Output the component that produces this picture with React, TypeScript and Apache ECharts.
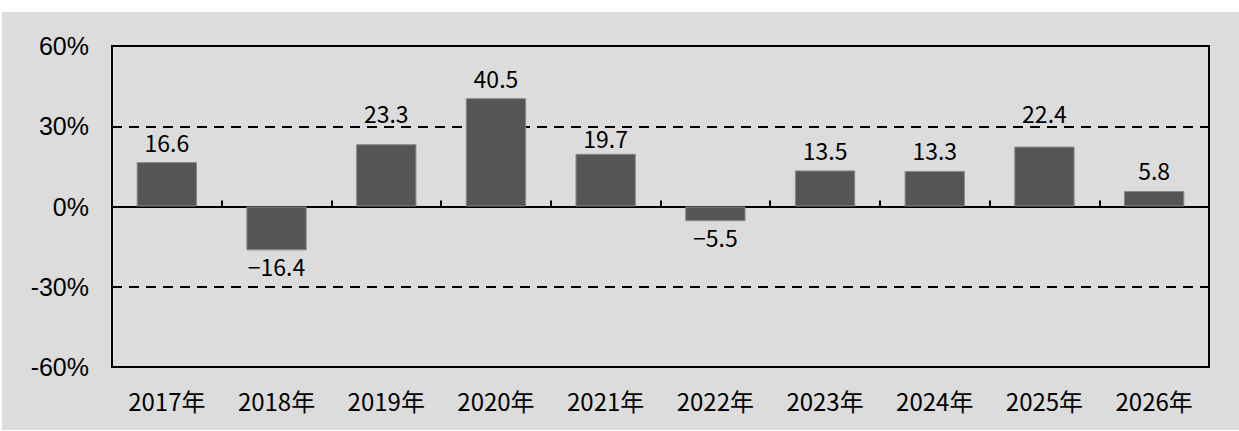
import React, { useEffect, useRef } from "react";
import * as echarts from "echarts";

const categories = ["2017年", "2018年", "2019年", "2020年", "2021年", "2022年", "2023年", "2024年", "2025年", "2026年"];
const growthValues = [16.6, -16.4, 23.3, 40.5, 19.7, -5.5, 13.5, 13.3, 22.4, 5.8];
const yMin = -60;
const yMax = 60;
const yInterval = 30;

const CJK = '"Noto Sans CJK JP", "Noto Sans", sans-serif';
const GRID_H = 321;

export default function App() {
  const ref = useRef<HTMLDivElement>(null);
  useEffect(() => {
    if (!ref.current) return;
    const chart = echarts.init(ref.current, null, { renderer: "svg" });
    const ppu = GRID_H / (yMax - yMin);
    const labelPx = 16; // approximate glyph height of a label
    const crosses = (v: number, d: number) => {
      const lo = v * ppu + d; // glyph bottom, px above zero
      const hi = lo + labelPx;
      for (let g = yInterval; g < yMax; g += yInterval) {
        const line = g * ppu;
        if (lo < line + 3 && hi > line - 3) return line;
      }
      return null;
    };
    const labelDistance = (v: number) => {
      if (v < 0) return 4;
      const normal = 9;
      if (crosses(v, normal) === null) return normal;
      // try tucking the label closer to the bar, below the dashed line
      const tight = 4;
      if (crosses(v, tight) === null) return tight;
      // otherwise lift it just above the dashed line
      const line = crosses(v, normal) as number;
      return line - v * ppu + 1.5;
    };
    chart.setOption({
      animation: false,
      backgroundColor: "#dcdcdc",
      grid: {
        left: 110,
        top: 34,
        width: 1097,
        height: GRID_H,
        show: true,
        borderColor: "#000",
        borderWidth: 2,
        backgroundColor: "transparent",
      },
      xAxis: [
        {
          type: "category",
          data: categories,
          position: "bottom",
          axisLine: { onZero: true, lineStyle: { color: "#000", width: 2 } },
          axisTick: { show: true, inside: true, length: 6, lineStyle: { color: "#000", width: 2 } },
          axisLabel: { show: false },
          splitLine: { show: false },
        },
        {
          type: "category",
          data: categories,
          position: "bottom",
          axisLine: { show: false, onZero: false },
          axisTick: { show: false },
          axisLabel: { show: true, color: "#000", fontFamily: CJK, fontSize: 24, margin: 21 },
          splitLine: { show: false },
        },
      ],
      yAxis: {
        type: "value",
        min: yMin,
        max: yMax,
        interval: yInterval,
        axisLine: { show: false },
        axisTick: { show: false },
        axisLabel: {
          color: "#000",
          fontFamily: '"Liberation Sans", Arial, sans-serif',
          fontSize: 25,
          margin: 23,
          formatter: (v: number) => `${v}%`,
        },
        splitLine: { show: true, lineStyle: { color: "#000", width: 2, type: [10, 7] } },
      },
      series: [
        {
          type: "bar",
          xAxisIndex: 0,
          barWidth: "55%",
          itemStyle: { color: "#555555", borderColor: "#8a8a8a", borderWidth: 1 },
          data: growthValues.map((v) => ({
            value: v,
            label: {
              show: true,
              position: v >= 0 ? "top" : "bottom",
              distance: labelDistance(v),
              color: "#000",
              fontFamily: CJK,
              fontSize: 23,
              formatter: () => v.toFixed(1).replace("-", "−"),
            },
          })),
        },
      ],
    });
    return () => chart.dispose();
  }, []);
  return (
    <div
      ref={ref}
      style={{ position: "absolute", left: 2, top: 12, width: 1237, height: 418 }}
    />
  );
}
